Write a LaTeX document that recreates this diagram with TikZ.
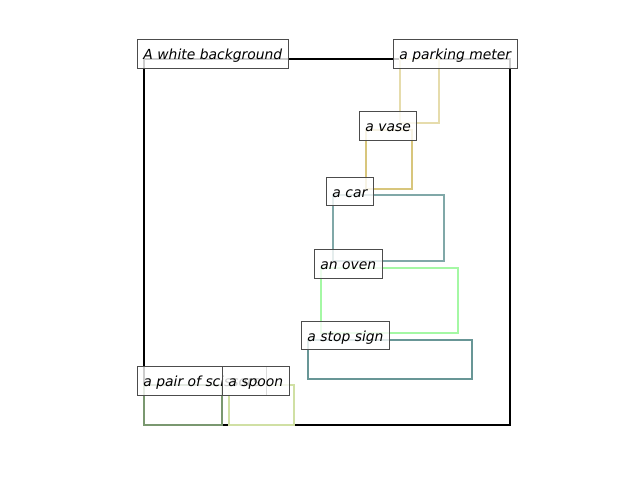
\documentclass[tikz,border=0pt]{standalone}
\usepackage{fontspec}
\setmainfont{DejaVu Sans}
\begin{document}
\begin{tikzpicture}[x=0.72pt,y=-0.72pt,
  region/.style={line width=1.9pt},
  lbl/.style={draw=black!70, line width=0.7pt, fill=white, fill opacity=0.8, text opacity=1,
    font=\itshape\fontsize{10pt}{12pt}\selectfont, anchor=west, inner xsep=4.3pt,
    minimum height=20.2pt, text height=9pt, text depth=1pt}]
\useasboundingbox (0,0) rectangle (640,480);
\definecolor{cpark}{RGB}{230,220,172}
\definecolor{cvase}{RGB}{216,198,124}
\definecolor{ccar}{RGB}{128,168,168}
\definecolor{coven}{RGB}{164,248,164}
\definecolor{cstop}{RGB}{104,150,150}
\definecolor{cscis}{RGB}{122,152,112}
\definecolor{cspoon}{RGB}{208,224,164}
\draw[region, black] (144,59) rectangle (510,425);
\draw[region, cpark] (400,59) rectangle (439,123);
\draw[region, cvase] (366,130) rectangle (412,189);
\draw[region, ccar] (333,195) rectangle (444,261);
\draw[region, coven] (321,268) rectangle (458,333);
\draw[region, cstop] (308,340) rectangle (472,379);
\draw[region, cscis] (144,385) rectangle (222,425);
\draw[region, cspoon] (229,385) rectangle (294,425);
\node[lbl] (bg) at (137,54) {A white background};
\node[lbl] (pm) at (393,54) {a parking meter};
\node[lbl] (vase) at (359,126) {a vase};
\node[lbl] (car) at (326,191.5) {a car};
\node[lbl] (oven) at (314,264) {an oven};
\node[lbl] (stop) at (301,335.5) {a stop sign};
\node[lbl] (scis) at (137,381) {a pair of scissors};
\node[lbl] (spoon) at (222,381) {a spoon};
\end{tikzpicture}
\end{document}
